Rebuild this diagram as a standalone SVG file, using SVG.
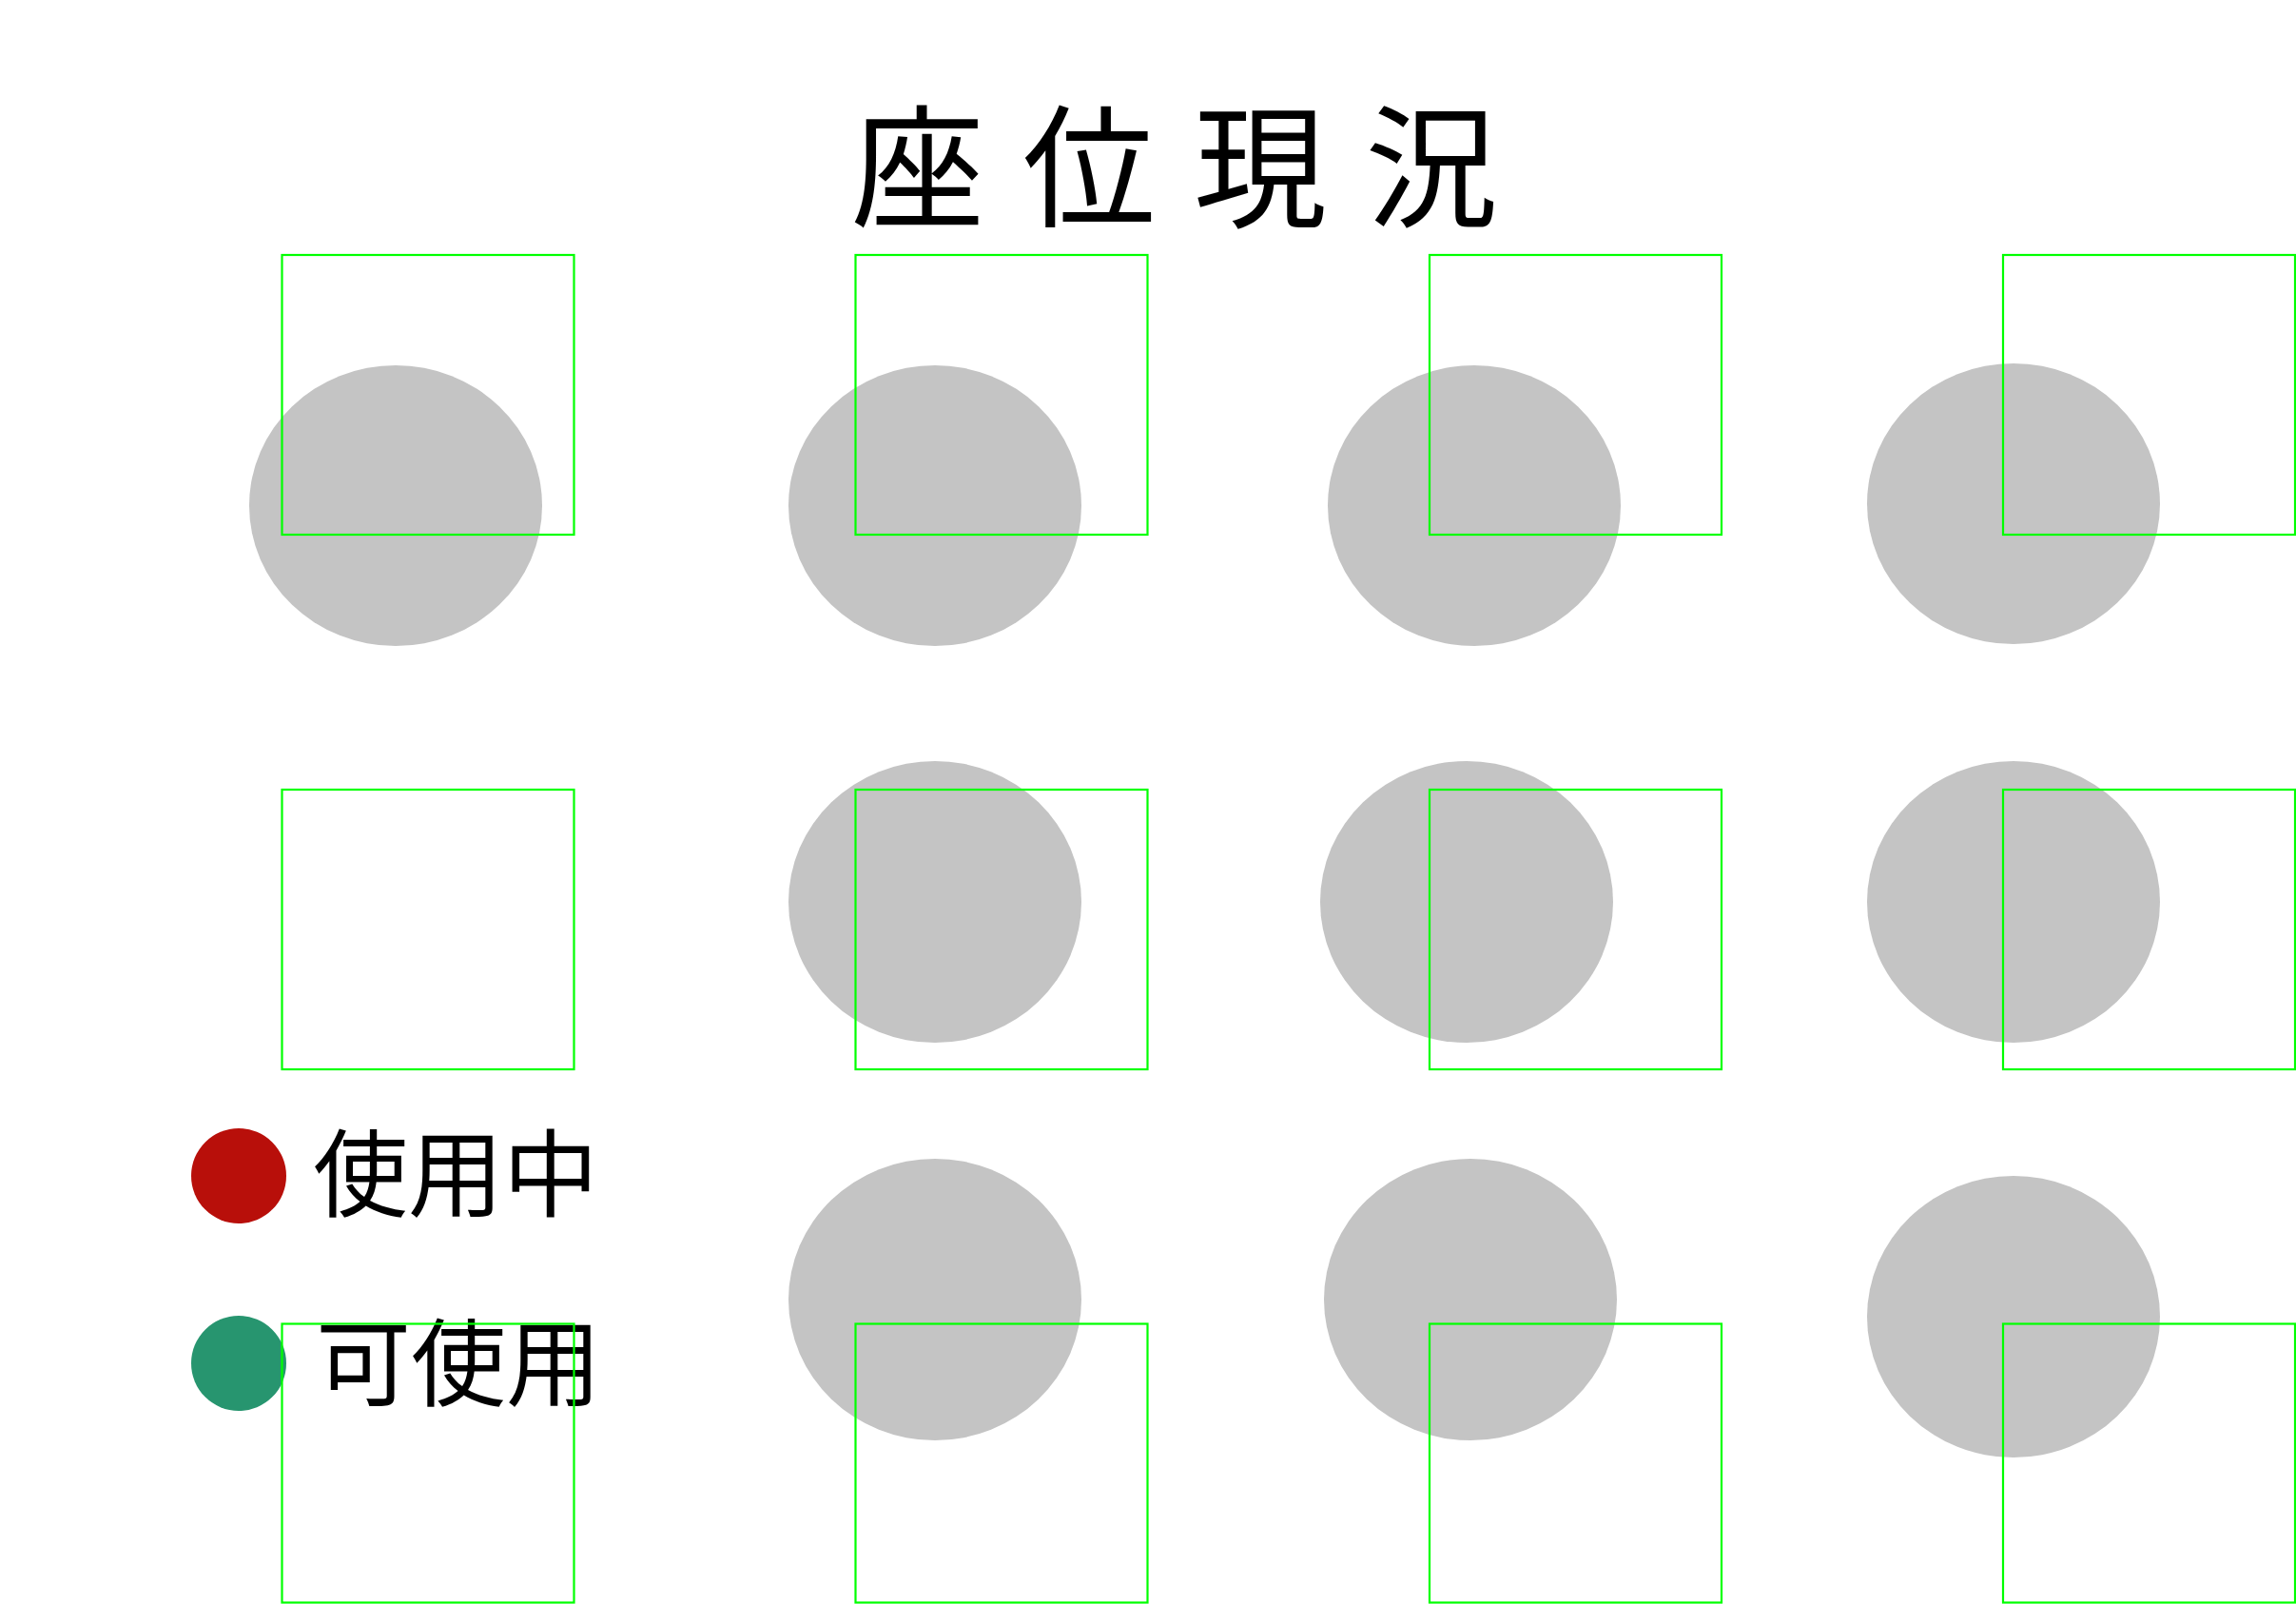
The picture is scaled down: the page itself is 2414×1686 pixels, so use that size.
<svg xmlns="http://www.w3.org/2000/svg" width="2414" height="1686" viewBox="0 0 2414 1686" xml:lang="ja">
<style>
.seat{fill:#c4c4c4}
.box{fill:none;stroke:#00ff00;stroke-width:2.2}
.t{font-family:"Noto Sans CJK JP","Noto Sans CJK SC",sans-serif;fill:#000}
</style>
<rect width="2414" height="1686" fill="#fff"/>
<g id="title"><text class="t" xml:lang="ja" x="895" y="228" font-size="140" letter-spacing="40">座位現況</text></g>
<g id="seats">
<ellipse id="s1" class="seat" cx="416" cy="531.5" rx="154" ry="147.5"/>
<ellipse id="s2" class="seat" cx="983" cy="531.5" rx="154" ry="147.5"/>
<ellipse id="s3" class="seat" cx="1550" cy="531.5" rx="154" ry="147.5"/>
<ellipse id="s4" class="seat" cx="2117" cy="529.5" rx="154" ry="147.5"/>
<ellipse id="s6" class="seat" cx="983" cy="948" rx="154" ry="148"/>
<ellipse id="s7" class="seat" cx="1542" cy="948" rx="154" ry="148"/>
<ellipse id="s8" class="seat" cx="2117" cy="948" rx="154" ry="148"/>
<ellipse id="s10" class="seat" cx="983" cy="1366" rx="154" ry="148"/>
<ellipse id="s11" class="seat" cx="1546" cy="1366" rx="154" ry="148"/>
<ellipse id="s12" class="seat" cx="2117" cy="1384" rx="154" ry="148"/>
</g>
<g id="legend">
<circle cx="251" cy="1236" r="50" fill="#b80f0a"/>
<text class="t" x="329" y="1271" font-size="100">使用中</text>
<circle cx="251" cy="1433" r="50" fill="#27956f"/>
<text class="t" x="332" y="1470" font-size="100">可使用</text>
</g>
<g id="boxes">
<rect class="box" x="296.5" y="268" width="307" height="294"/>
<rect class="box" x="899.5" y="268" width="307" height="294"/>
<rect class="box" x="1503" y="268" width="307" height="294"/>
<rect class="box" x="2106" y="268" width="307" height="294"/>
<rect class="box" x="296.5" y="830" width="307" height="294"/>
<rect class="box" x="899.5" y="830" width="307" height="294"/>
<rect class="box" x="1503" y="830" width="307" height="294"/>
<rect class="box" x="2106" y="830" width="307" height="294"/>
<rect class="box" x="296.5" y="1391.5" width="307" height="293"/>
<rect class="box" x="899.5" y="1391.5" width="307" height="293"/>
<rect class="box" x="1503" y="1391.5" width="307" height="293"/>
<rect class="box" x="2106" y="1391.5" width="307" height="293"/>
</g>
</svg>
